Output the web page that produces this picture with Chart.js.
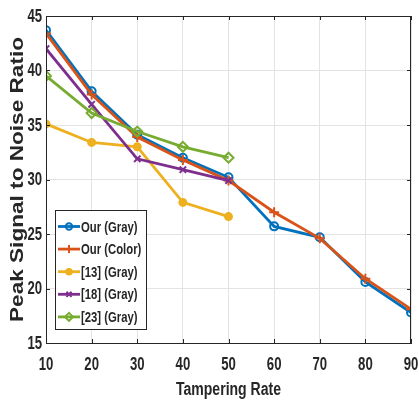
<!DOCTYPE html>
<html>
<head>
<meta charset="utf-8">
<script src="https://cdn.jsdelivr.net/npm/chart.js@4"></script>
<style>
    html, body { margin: 0; padding: 0; background: #fff; }
</style>
</head>
<body>
<canvas id="psnrChart" width="419" height="402"></canvas>
<script>
// Dados do gráfico
const tamperingRates = [10, 20, 30, 40, 50, 60, 70, 80, 90];
const ourGray = [43.7, 38.1, 34.1, 32.0, 30.2, 25.7, 24.7, 20.6, 17.8];
const ourColor = [43.4, 37.8, 33.9, 31.8, 29.9, 27.0, 24.6, 20.9, 18.1];
const ref13Gray = [35.1, 33.4, 33.0, 27.9, 26.6];
const ref18Gray = [42.0, 36.9, 31.9, 30.9, 29.9];
const ref23Gray = [39.5, 36.1, 34.4, 33.0, 32.0];
const seriesNames = ['Our (Gray)', 'Our (Color)', '[13] (Gray)', '[18] (Gray)', '[23] (Gray)'];
const yTickValues = [15, 20, 25, 30, 35, 40, 45];
const xTitle = 'Tampering Rate';
const yTitle = 'Peak Signal to Noise Ratio';

const baseFont = "'Liberation Sans', Arial, sans-serif";
const textColor = '#262626';

function toPoints(values) {
    return values.map((v, i) => ({ x: tamperingRates[i], y: v }));
}

// Texto "estreito": escala horizontal do canvas
function narrowText(ctx, text, x, y, size, sx, align) {
    ctx.save();
    ctx.font = 'bold ' + size + 'px ' + baseFont;
    ctx.textAlign = align;
    ctx.textBaseline = 'middle';
    ctx.translate(x, y);
    ctx.scale(sx, 1);
    ctx.fillText(text, 0, 0);
    ctx.restore();
}

const seriesValues = [ourGray, ourColor, ref13Gray, ref18Gray, ref23Gray];
const seriesStyle = [
    { color: '#0072BD', pointStyle: 'circle', radius: 4, fill: false },
    { color: '#D95319', pointStyle: 'cross', radius: 5, fill: false },
    { color: '#EDB120', pointStyle: 'circle', radius: 3.5, fill: true },
    { color: '#7E2F8E', pointStyle: 'crossRot', radius: 4.5, fill: false },
    { color: '#77AC30', pointStyle: 'rectRot', radius: 5, fill: false }
];

const datasets = seriesValues.map((values, i) => ({
    label: seriesNames[i],
    data: toPoints(values),
    borderColor: seriesStyle[i].color,
    backgroundColor: seriesStyle[i].fill ? seriesStyle[i].color : 'rgba(0,0,0,0)',
    pointBorderColor: seriesStyle[i].color,
    pointBackgroundColor: seriesStyle[i].fill ? seriesStyle[i].color : 'rgba(0,0,0,0)',
    pointStyle: seriesStyle[i].pointStyle,
    pointRadius: seriesStyle[i].radius,
    pointBorderWidth: 2,
    borderWidth: 2.8,
    tension: 0,
    order: -i
}));

// Moldura estilo MATLAB, rótulos, títulos e legenda dentro da área
const matlabDecor = {
    id: 'matlabDecor',
    afterDatasetsDraw(chart) {
        const ctx = chart.ctx;
        const a = chart.chartArea;
        const xs = chart.scales.x;
        const ys = chart.scales.y;
        ctx.save();
        ctx.strokeStyle = textColor;
        ctx.lineWidth = 1;
        ctx.strokeRect(a.left + 0.5, a.top + 0.5, a.right - a.left - 1, a.bottom - a.top);
        ctx.beginPath();
        xs.ticks.forEach(t => {
            const px = Math.round(xs.getPixelForValue(t.value)) + 0.5;
            ctx.moveTo(px, a.bottom); ctx.lineTo(px, a.bottom - 4);
            ctx.moveTo(px, a.top); ctx.lineTo(px, a.top + 4);
        });
        ys.ticks.forEach(t => {
            const py = Math.round(ys.getPixelForValue(t.value)) + 0.5;
            ctx.moveTo(a.left, py); ctx.lineTo(a.left + 4, py);
            ctx.moveTo(a.right, py); ctx.lineTo(a.right - 4, py);
        });
        ctx.stroke();
        ctx.restore();
    },
    afterDraw(chart) {
        const ctx = chart.ctx;
        const a = chart.chartArea;
        const xs = chart.scales.x;
        const ys = chart.scales.y;
        ctx.save();
        ctx.fillStyle = textColor;

        // rótulos dos eixos
        xs.ticks.forEach(t => {
            narrowText(ctx, String(t.value), xs.getPixelForValue(t.value), a.bottom + 22, 18, 0.73, 'center');
        });
        ys.ticks.forEach(t => {
            narrowText(ctx, String(t.value), a.left - 4, ys.getPixelForValue(t.value) + 1, 18, 0.73, 'right');
        });

        // título do eixo x
        narrowText(ctx, xTitle, (a.left + a.right) / 2, 390, 18, 0.78, 'center');

        // título do eixo y, esticado
        ctx.font = "bold 18px " + baseFont;
        ctx.textAlign = 'center';
        ctx.textBaseline = 'middle';
        const w = ctx.measureText(yTitle).width;
        ctx.translate(18, (a.top + a.bottom) / 2);
        ctx.rotate(-Math.PI / 2);
        ctx.scale(285 / w, 1);
        ctx.fillText(yTitle, 0, 0);
        ctx.restore();

        // legenda
        ctx.save();
        const bx = a.left + 9, by = a.top + 194, bw = 91, bh = 119;
        ctx.fillStyle = '#fff';
        ctx.fillRect(bx, by, bw, bh);
        ctx.strokeStyle = textColor;
        ctx.lineWidth = 1;
        ctx.strokeRect(bx + 0.5, by + 0.5, bw, bh);
        chart.data.datasets.forEach((ds, i) => {
            const cy = by + 16.5 + i * 22.6;
            ctx.strokeStyle = ds.borderColor;
            ctx.lineWidth = 2.8;
            ctx.beginPath();
            ctx.moveTo(bx + 3, cy);
            ctx.lineTo(bx + 25, cy);
            ctx.stroke();
            ctx.fillStyle = ds.pointBackgroundColor;
            ctx.lineWidth = 2;
            Chart.helpers.drawPoint(ctx, {
                pointStyle: ds.pointStyle,
                radius: ds.pointRadius * 0.8,
                rotation: 0,
                borderWidth: 2
            }, bx + 14, cy);
            ctx.fillStyle = textColor;
            narrowText(ctx, ds.label, bx + 26, cy + 1, 14.5, 0.78, 'left');
        });
        ctx.restore();
    }
};

const chart = new Chart(document.getElementById('psnrChart').getContext('2d'), {
    type: 'line',
    data: { datasets: datasets },
    options: {
        responsive: false,
        animation: false,
        devicePixelRatio: 1,
        layout: { padding: { top: 16, right: 8, left: 0, bottom: 0 } },
        plugins: {
            legend: { display: false },
            tooltip: { enabled: false }
        },
        scales: {
            x: {
                type: 'linear',
                min: 10,
                max: 90,
                ticks: { stepSize: 10, display: false },
                grid: { color: '#e3e3e3', drawTicks: false },
                border: { color: textColor },
                afterFit(scale) {
                    scale.height = 59;
                    scale.paddingLeft = 0;
                    scale.paddingRight = 0;
                }
            },
            y: {
                type: 'linear',
                min: 15,
                max: 45,
                afterBuildTicks(scale) {
                    scale.ticks = yTickValues.map(v => ({ value: v }));
                },
                ticks: { display: false },
                grid: { color: '#e3e3e3', drawTicks: false },
                border: { color: textColor },
                afterFit(scale) {
                    scale.width = 46;
                    scale.paddingTop = 0;
                    scale.paddingBottom = 0;
                }
            }
        }
    },
    plugins: [matlabDecor]
});
</script>
</body>
</html>
